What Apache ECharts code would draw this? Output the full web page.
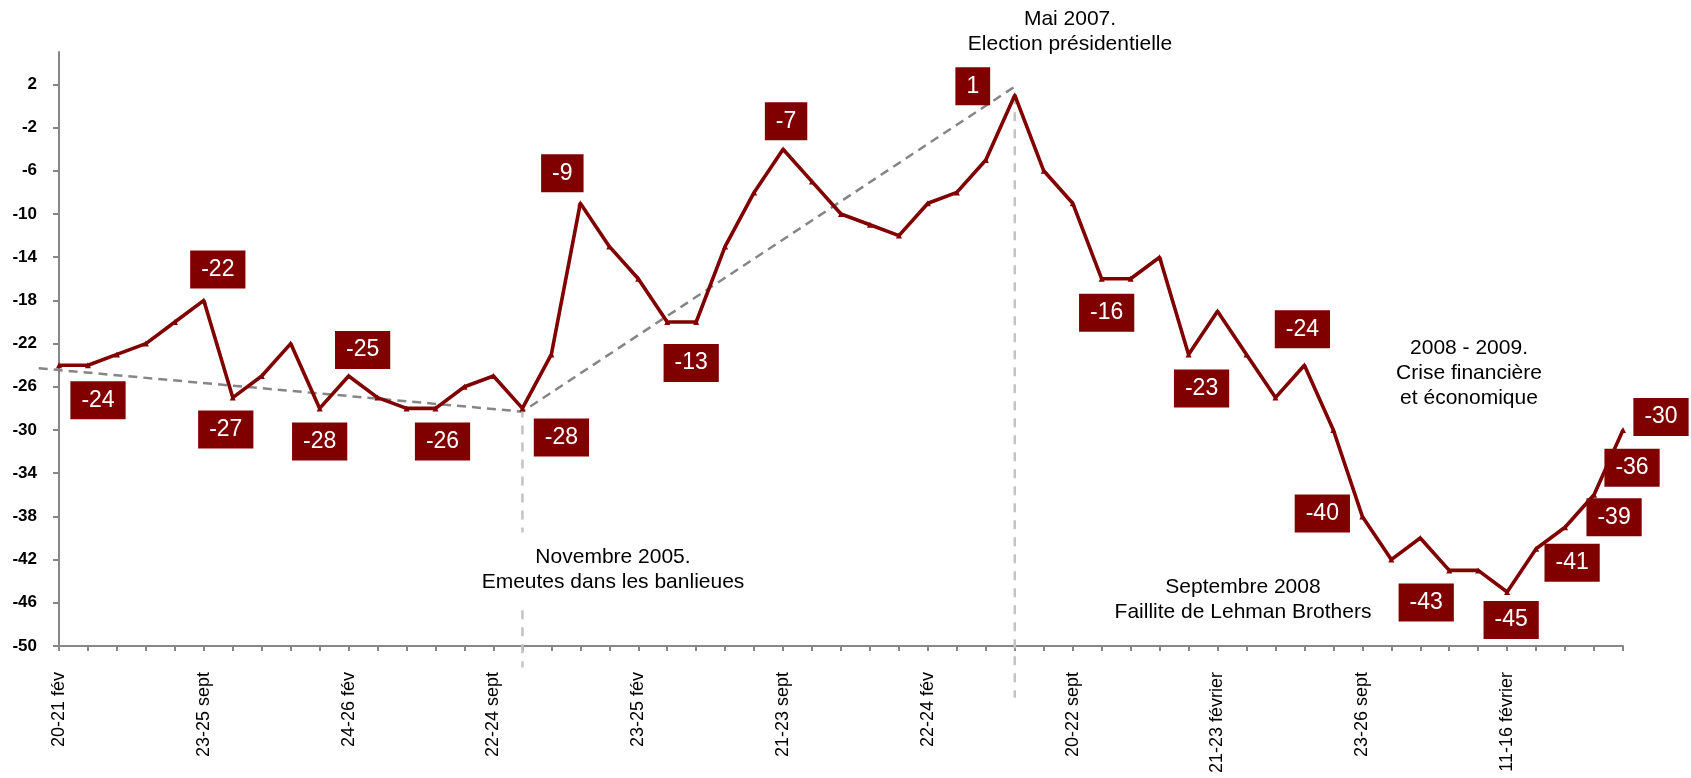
<!DOCTYPE html>
<html>
<head>
<meta charset="UTF-8">
<title>Indicateur 2005-2009</title>
<script src="https://cdn.jsdelivr.net/npm/echarts@6/dist/echarts.min.js"></script>
<style>html,body{margin:0;padding:0;background:#fff;}</style>
</head>
<body>
<div id="main" style="width:1691px;height:778px;"></div>
<script type="text/javascript">
// étiquettes de l'axe X (une tous les 5 points)
var tickLabels = ['20-21 fév', '23-25 sept', '24-26 fév', '22-24 sept', '23-25 fév', '21-23 sept',
    '22-24 fév', '20-22 sept', '21-23 février', '23-26 sept', '11-16 février'];
// valeurs de la série
var values = [-24, -24, -23, -22, -20, -18, -27, -25, -22, -28, -25, -27, -28, -28, -26, -25, -28, -23,
    -9, -13, -16, -20, -20, -13, -8, -4, -7, -10, -11, -12, -9, -8, -5, 1, -6, -9, -16, -16, -14,
    -23, -19, -23, -27, -24, -30, -38, -42, -40, -43, -43, -45, -41, -39, -36, -30];
var yTicks = [-50, -46, -42, -38, -34, -30, -26, -22, -18, -14, -10, -6, -2, 2];
// étiquettes rouges
var calloutIdx = [0, 5, 6, 9, 10, 13, 16, 18, 22, 25, 33, 36, 39, 43, 45, 48, 50, 51, 52, 53, 54];
var calloutText = ['-24', '-22', '-27', '-28', '-25', '-26', '-28', '-9', '-13', '-7', '1', '-16', '-23',
    '-24', '-40', '-43', '-45', '-41', '-39', '-36', '-30'];
// droites de tendance (index, valeur)
var trendIdx = [0, 16, 33];
var trendVals = [-24.45, -28.3, 1.8];
// repères verticaux : index, segments (valeur haute, valeur basse)
var markerIdx = [16, 33];
var markerSegs = [[[-28, -39.5], [-46.7, -52]], [[1, -54.8]]];

// décalage des étiquettes par rapport au point (px)
var calloutOffset = [[39, 35], [14, -31], [-7, 32], [0, 33], [14, -26], [7, 33], [39, 29], [-18, -30],
    [-5, 41], [3, -28], [-42, -9], [5, 34], [13, 34], [-2, -36], [-40, -3], [-23, 32], [4, 28],
    [36, 14], [49, -10], [38, -27], [38, -13]];

var FONT = '"Liberation Sans", Arial, sans-serif';
var SYM = 6;
var categories = values.map(function (v, i) {
    return i % 5 === 0 ? tickLabels[i / 5] : 'p' + i;
});

var seriesData = values.map(function (v, i) {
    var k = calloutIdx.indexOf(i);
    if (k < 0) return v;
    return {
        value: v,
        label: {
            show: true,
            formatter: calloutText[k],
            position: [SYM / 2 + calloutOffset[k][0], SYM / 2 + calloutOffset[k][1]],
            align: 'center',
            verticalAlign: 'middle'
        }
    };
});

var myChart = echarts.init(document.getElementById('main'));

var option = {
    backgroundColor: '#fff',
    animation: false,
    grid: {left: 59, right: 68, top: 52, bottom: 132},
    xAxis: {
        type: 'category',
        data: categories,
        boundaryGap: false,
        axisLine: {onZero: false, lineStyle: {color: '#878787', width: 2}},
        axisTick: {interval: 0, length: 5, lineStyle: {color: '#878787', width: 2}},
        axisLabel: {
            interval: 4,
            rotate: 90,
            margin: 26,
            color: '#000',
            fontSize: 18,
            fontFamily: FONT
        },
        splitLine: {show: false}
    },
    yAxis: {
        type: 'value',
        min: -50,
        max: 5,
        axisLine: {show: true, lineStyle: {color: '#878787', width: 2}},
        axisTick: {show: true, length: 6, customValues: yTicks, lineStyle: {color: '#878787', width: 2}},
        axisLabel: {
            customValues: yTicks,
            margin: 22,
            color: '#000',
            fontSize: 17,
            fontWeight: 'bold',
            fontFamily: FONT
        },
        splitLine: {show: false}
    },
    series: [{
        type: 'line',
        data: seriesData,
        z: 3,
        symbol: 'triangle',
        symbolSize: SYM,
        itemStyle: {color: '#800000'},
        lineStyle: {color: '#800000', width: 3.6},
        label: {
            show: false,
            color: '#fff',
            backgroundColor: '#800000',
            fontSize: 23,
            fontFamily: FONT,
            lineHeight: 24,
            padding: [7, 11]
        },
        labelLayout: {hideOverlap: false}
    }]
};
myChart.setOption(option);

// annotations : tendances, repères et textes
function px(i, v) {
    return myChart.convertToPixel({gridIndex: 0}, [i, v]);
}
var graphics = [];
var step = px(1, 0)[0] - px(0, 0)[0];
var t0 = px(trendIdx[0], trendVals[0]);
var t1 = px(trendIdx[1], trendVals[1]);
var slope = (t1[1] - t0[1]) / (t1[0] - t0[0]);
var ext = 0.7 * step;
var pts = [[t0[0] - ext, t0[1] - slope * ext]];
for (var i = 0; i < trendIdx.length; i++) pts.push(px(trendIdx[i], trendVals[i]));
graphics.push({
    type: 'polyline', z: 1, silent: true,
    shape: {points: pts},
    style: {stroke: '#868686', lineWidth: 2.5, lineDash: [9, 6], fill: null}
});
markerIdx.forEach(function (idx, m) {
    markerSegs[m].forEach(function (seg) {
        var a = px(idx, seg[0]), b = px(idx, seg[1]);
        graphics.push({
            type: 'line', z: 1, silent: true,
            shape: {x1: a[0], y1: a[1], x2: b[0], y2: b[1]},
            style: {stroke: '#c3c3c3', lineWidth: 2.5, lineDash: [9, 8]}
        });
    });
});
var notes = [
    {text: 'Novembre 2005.\nEmeutes dans les banlieues', x: 613, y: 570},
    {text: 'Mai 2007.\nElection présidentielle', x: 1070, y: 32},
    {text: 'Septembre 2008\nFaillite de Lehman Brothers', x: 1243, y: 600},
    {text: '2008 - 2009.\nCrise financière\net économique', x: 1469, y: 373}
];
notes.forEach(function (n) {
    graphics.push({
        type: 'text', z: 5, silent: true, x: n.x, y: n.y,
        style: {
            text: n.text, fill: '#000', font: '21px ' + FONT,
            align: 'center', verticalAlign: 'middle', lineHeight: 25
        }
    });
});
myChart.setOption({graphic: graphics});
</script>
</body>
</html>
